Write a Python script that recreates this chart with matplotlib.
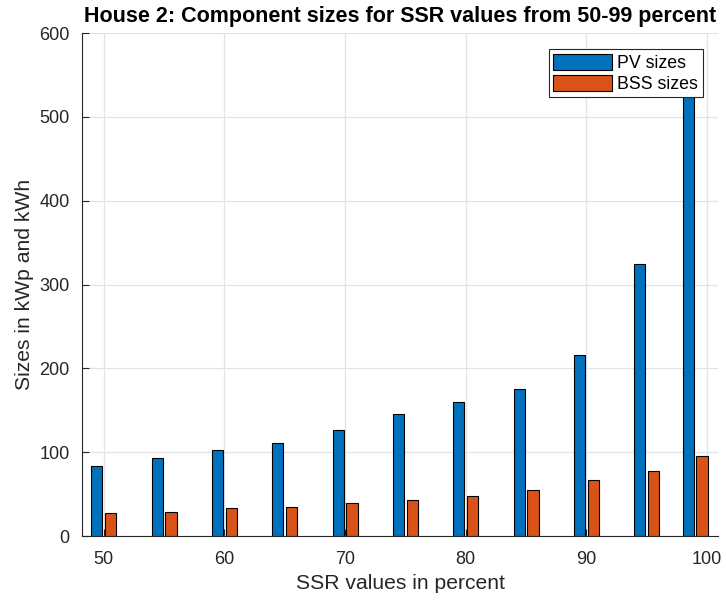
import matplotlib
matplotlib.use("Agg")
import matplotlib.pyplot as plt
import numpy as np

plt.rcParams['font.family'] = ['Liberation Sans', 'DejaVu Sans']

# SSR levels (percent) and resulting component sizes
ssr = [50, 55, 60, 65, 70, 75, 80, 85, 90, 95, 99]
pv_sizes = [83, 93, 103, 111, 126, 146, 160, 176, 216, 325, 560]
bss_sizes = [27, 29, 33, 35, 39, 43, 48, 55, 67, 78, 95]

pv_color = '#0072BD'
bss_color = '#D95319'
axis_color = '#262626'

fig = plt.figure(figsize=(7.26, 6.03), dpi=100)
ax = fig.add_axes([0.113, 0.111, 0.876, 0.834])

x = np.array(ssr, dtype=float)
offset = 0.57
width = 0.92
ax.bar(x - offset, pv_sizes, width=width, color=pv_color, edgecolor='black',
       linewidth=0.8, label='PV sizes', zorder=3)
ax.bar(x + offset, bss_sizes, width=width, color=bss_color, edgecolor='black',
       linewidth=0.8, label='BSS sizes', zorder=3)

ax.set_xlim(48.2, 100.9)
ax.set_ylim(0, 600)
ax.set_xticks([50, 60, 70, 80, 90, 100])
ax.set_yticks([0, 100, 200, 300, 400, 500, 600])

ax.grid(True, color='#e3e3e3', linewidth=0.9, zorder=0)
ax.set_axisbelow(True)

for side in ('top', 'right'):
    ax.spines[side].set_visible(False)
for side in ('left', 'bottom'):
    ax.spines[side].set_color(axis_color)
    ax.spines[side].set_linewidth(0.8)

ax.tick_params(direction='in', length=5, width=0.8, colors=axis_color,
               labelsize=13)
ax.tick_params(axis='x', pad=11)
ax.tick_params(axis='y', pad=9)

ax.set_xlabel('SSR values in percent', fontsize=15.2, color=axis_color, labelpad=4)
ax.set_ylabel('Sizes in kWp and kWh', fontsize=15.2, color=axis_color, labelpad=4)
ax.set_title('House 2: Component sizes for SSR values from 50-99 percent',
             fontsize=15.5, fontweight='bold', color='black', pad=8)

leg = ax.legend(loc='upper right', bbox_to_anchor=(0.976, 0.968), fontsize=12.8,
                frameon=True, fancybox=False, edgecolor=axis_color, framealpha=1,
                handlelength=3.3, handleheight=1.0, borderpad=0.25,
                labelspacing=0.17, handletextpad=0.3, borderaxespad=0.0)
leg.get_frame().set_linewidth(0.8)
leg.set_zorder(5)

fig.savefig('out.png', dpi=100)
